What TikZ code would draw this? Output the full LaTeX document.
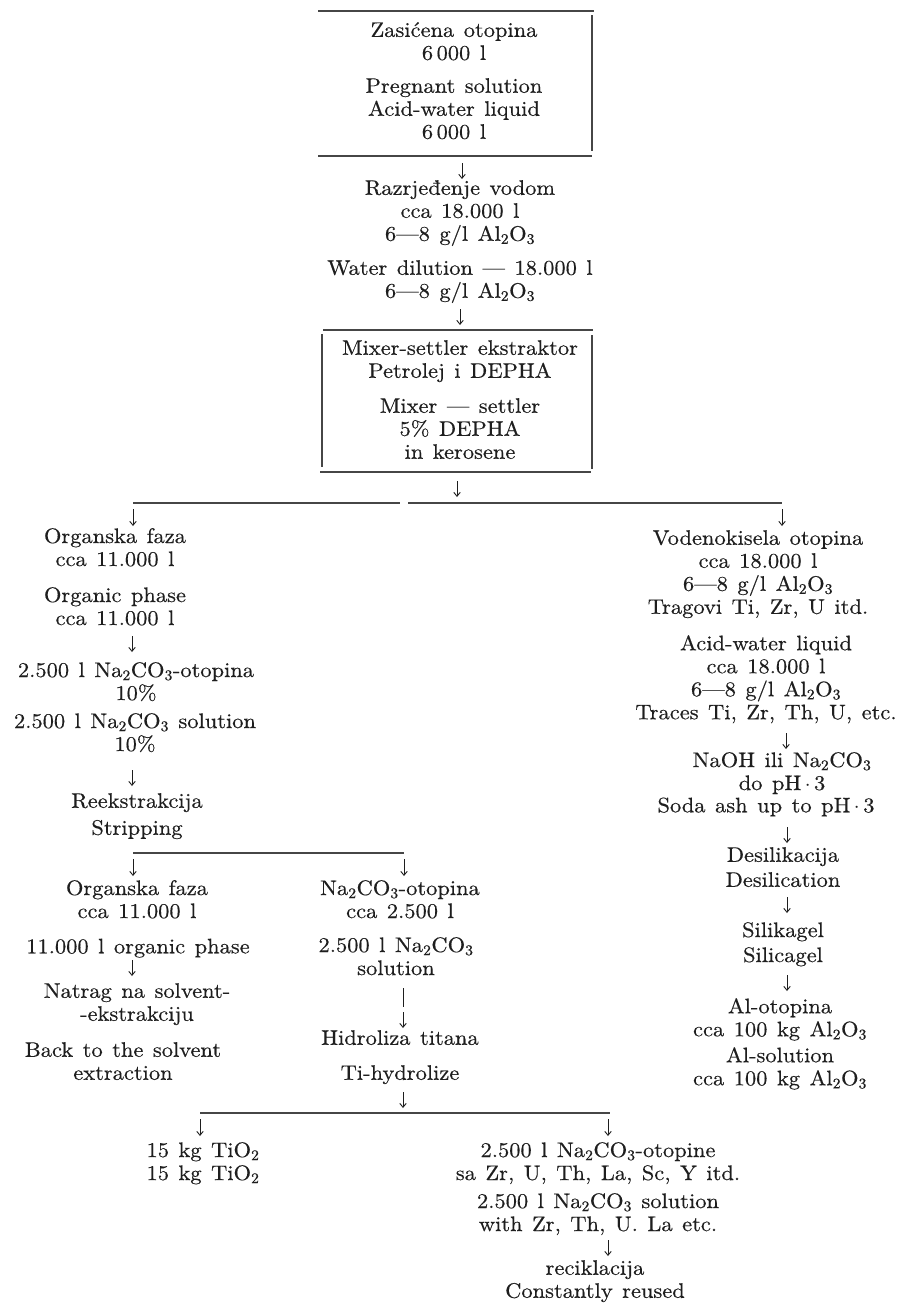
\documentclass[tikz,border=0pt]{standalone}
\usepackage{fontspec}
\setmainfont{lmroman10-regular.otf}[FakeStretch=1.07,FakeBold=0.4]
\usetikzlibrary{arrows.meta}
\newcommand\fsz{\fontsize{21}{23}\selectfont\spaceskip=9.5pt plus 2pt minus 1pt\relax}
\newcommand\sbs[1]{\textsubscript{#1}}
\definecolor{inkc}{RGB}{30,30,30}
\definecolor{linec}{RGB}{70,70,70}
\begin{document}
\begin{tikzpicture}[x=1pt,y=-1pt,
  txt/.style={anchor=north, yshift=10pt, align=center, inner sep=0pt, font=\fsz, text=inkc,
    execute at begin node=\strut, execute at end node=\strut},
  rule/.style={draw=linec, line width=1.4pt},
  arr/.style={draw=inkc, line width=0.9pt, -{Straight Barb[length=4pt,width=6.5pt]}}]
\useasboundingbox[fill=white] (0,0) rectangle (906,1304);

% ---------- top box ----------
\node[txt] (zas) at (454,32) {Zasićena otopina\\6\,000 l};
\node[txt] (preg) at (454,88) {Pregnant solution\\Acid-water liquid\\6\,000 l};
\coordinate (b1tl) at (318,11); \coordinate (b1tr) at (594,11);
\coordinate (b1bl) at (318,156); \coordinate (b1br) at (592,156);
\coordinate (b1rt) at (592,15); \coordinate (b1rb) at (592,151);
\draw[rule] (b1tl) -- (b1tr);
\draw[rule] (b1bl) -- (b1br);
\draw[rule] (b1rt) -- (b1rb);

\coordinate (a1t) at (462,163); \coordinate (a1b) at (462,179);
\draw[arr] (a1t) -- (a1b);

\node[txt] (razr) at (460,190) {Razrjeđenje vodom\\cca 18.000 l\\6—8 g/l Al\sbs{2}O\sbs{3}};
\node[txt] (wdil) at (460,270) {Water dilution — 18.000 l\\6—8 g/l Al\sbs{2}O\sbs{3}};

\coordinate (a2t) at (460,309); \coordinate (a2b) at (460,325);
\draw[arr] (a2t) -- (a2b);

% ---------- mixer box ----------
\coordinate (b2tl) at (323,330); \coordinate (b2tr) at (593,330);
\coordinate (b2bl) at (320,472); \coordinate (b2br) at (591,472);
\coordinate (b2lt) at (322,334); \coordinate (b2lb) at (322,467);
\coordinate (b2rt) at (592,335); \coordinate (b2rb) at (592,469);
\draw[rule] (b2tl) -- (b2tr);
\draw[rule] (b2bl) -- (b2br);
\draw[rule] (b2lt) -- (b2lb);
\draw[rule] (b2rt) -- (b2rb);
\node[txt] (mix) at (460,350) {Mixer-settler ekstraktor\\Petrolej i DEPHA};
\node[txt] (mixe) at (460,408) {Mixer — settler\\5\% DEPHA\\in kerosene};

\coordinate (a3t) at (457,481); \coordinate (a3b) at (457,497);
\draw[arr] (a3t) -- (a3b);

% ---------- first split ----------
\coordinate (h1a) at (133,503); \coordinate (h1b) at (400,503);
\coordinate (h1c) at (408,503); \coordinate (h1d) at (782,503);
\draw[rule] (h1a) -- (h1b);
\draw[rule] (h1c) -- (h1d);
\coordinate (a4t) at (133,509); \coordinate (a4b) at (133,526);
\coordinate (a5t) at (782,509); \coordinate (a5b) at (782,526);
\draw[arr] (a4t) -- (a4b);
\draw[arr] (a5t) -- (a5b);

% ---------- left column ----------
\node[txt] (org1) at (115,538) {Organska faza\\cca 11.000 l};
\node[txt] (org2) at (115,597) {Organic phase\\cca 11.000 l};
\coordinate (a6t) at (132,636); \coordinate (a6b) at (132,652);
\draw[arr] (a6t) -- (a6b);
\node[txt] (na1) at (136,672) {2.500 l Na\sbs{2}CO\sbs{3}-otopina\\10\%};
\node[txt] (na2) at (135,723) {2.500 l Na\sbs{2}CO\sbs{3} solution\\10\%};
\coordinate (a7t) at (132,770); \coordinate (a7b) at (132,786);
\draw[arr] (a7t) -- (a7b);
\node[txt] (reek) at (137,803) {Reekstrakcija\\[4pt]Stripping};

\coordinate (h2a) at (133,853); \coordinate (h2b) at (404,853);
\draw[rule] (h2a) -- (h2b);
\coordinate (a8t) at (133,859); \coordinate (a8b) at (133,876);
\coordinate (a9t) at (404,859); \coordinate (a9b) at (404,876);
\draw[arr] (a8t) -- (a8b);
\draw[arr] (a9t) -- (a9b);

\node[txt] (org3) at (137,890) {Organska faza\\cca 11.000 l};
\node[txt] (org4) at (138,947) {11.000 l organic phase};
\coordinate (a10t) at (132,960); \coordinate (a10b) at (132,976);
\draw[arr] (a10t) -- (a10b);
\node[txt] (natr) at (137,993) {Natrag na solvent-\\-ekstrakciju};
\node[txt] (back) at (123,1052) {Back to the solvent\\extraction};

% ---------- middle column ----------
\node[txt] (nao) at (400,890) {Na\sbs{2}CO\sbs{3}-otopina\\cca 2.500 l};
\node[txt] (nas) at (396,947) {2.500 l Na\sbs{2}CO\sbs{3}\\solution};
\coordinate (bart) at (403,988); \coordinate (barb) at (403,1007);
\draw[draw=inkc, line width=0.9pt] (bart) -- (barb);
\coordinate (a11t) at (403,1012); \coordinate (a11b) at (403,1028);
\draw[arr] (a11t) -- (a11b);
\node[txt] (hidr) at (400,1040) {Hidroliza titana\\[12pt]Ti-hydrolize};
\coordinate (a12t) at (403,1092); \coordinate (a12b) at (403,1108);
\draw[arr] (a12t) -- (a12b);

% ---------- bottom split ----------
\coordinate (h3a) at (200,1113); \coordinate (h3b) at (610,1113);
\draw[rule] (h3a) -- (h3b);
\coordinate (a13t) at (200,1119); \coordinate (a13b) at (200,1136);
\coordinate (a14t) at (608,1119); \coordinate (a14b) at (608,1136);
\draw[arr] (a13t) -- (a13b);
\draw[arr] (a14t) -- (a14b);
\node[txt] (tio) at (203,1152) {15 kg TiO\sbs{2}\\15 kg TiO\sbs{2}};
\node[txt] (naot) at (598,1152) {2.500 l Na\sbs{2}CO\sbs{3}-otopine\\sa Zr, U, Th, La, Sc, Y itd.};
\node[txt] (nasol) at (598,1203) {2.500 l Na\sbs{2}CO\sbs{3} solution\\with Zr, Th, U. La etc.};
\coordinate (a15t) at (608,1240); \coordinate (a15b) at (608,1256);
\draw[arr] (a15t) -- (a15b);
\node[txt] (reci) at (595,1270) {reciklacija\\Constantly reused};

% ---------- right column ----------
\node[txt] (vod) at (758,540) {Vodenokisela otopina\\cca 18.000 l\\6—8 g/l Al\sbs{2}O\sbs{3}\\Tragovi Ti, Zr, U itd.};
\node[txt] (acid) at (766,645) {Acid-water liquid\\cca 18.000 l\\6—8 g/l Al\sbs{2}O\sbs{3}\\Traces Ti, Zr, Th, U, etc.};
\coordinate (a16t) at (786,733); \coordinate (a16b) at (786,749);
\draw[arr] (a16t) -- (a16b);
\node[txt] (naoh) at (782,762) {NaOH ili Na\sbs{2}CO\sbs{3}\\do pH\,$\cdot$\,3};
\node[txt] (soda) at (766,806) {Soda ash up to pH\,$\cdot$\,3};
\coordinate (a17t) at (787,827); \coordinate (a17b) at (787,843);
\draw[arr] (a17t) -- (a17b);
\node[txt] (desi) at (783,857) {Desilikacija\\[2pt]Desilication};
\coordinate (a18t) at (787,897); \coordinate (a18b) at (787,913);
\draw[arr] (a18t) -- (a18b);
\node[txt] (sili) at (783,932) {Silikagel\\[2pt]Silicagel};
\coordinate (a19t) at (787,975); \coordinate (a19b) at (787,991);
\draw[arr] (a19t) -- (a19b);
\node[txt] (alo) at (780,1008) {Al-otopina\\cca 100 kg Al\sbs{2}O\sbs{3}};
\node[txt] (als) at (780,1057) {Al-solution\\cca 100 kg Al\sbs{2}O\sbs{3}};
\end{tikzpicture}
\end{document}
